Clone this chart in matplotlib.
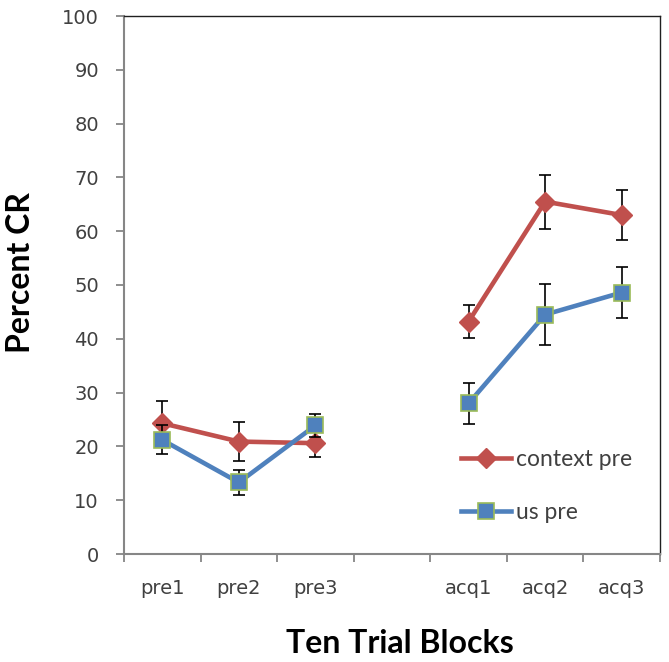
import numpy as np
import matplotlib
matplotlib.use("Agg")
import matplotlib.pyplot as plt

categories = ["pre1", "pre2", "pre3", "", "acq1", "acq2", "acq3"]
context_pre = [24.3, 20.9, 20.6, np.nan, 43.2, 65.5, 63.0]
context_err = [4.2, 3.7, 2.5, np.nan, 3.1, 5.0, 4.7]
us_pre = [21.2, 13.3, 23.9, np.nan, 28.0, 44.5, 48.6]
us_err = [2.7, 2.3, 2.2, np.nan, 3.8, 5.7, 4.8]
yticks = list(range(0, 101, 10))

red = "#C0504D"
blue = "#4F81BD"
green = "#9BBB59"

W, H = 669, 662
fig = plt.figure(figsize=(W/100, H/100), dpi=100)
ax = fig.add_axes([124/W, 1-554/H, (660-124)/W, (554-16)/H])

x = np.arange(len(categories))
ax.plot(x, context_pre, color=red, lw=3.3, marker="D", ms=10, mfc=red, mec=red,
        label="context pre", zorder=3)
ax.errorbar(x, context_pre, yerr=context_err, fmt="none", ecolor="black",
            elinewidth=1.2, capsize=4.5, capthick=1.2, zorder=2)
ax.plot(x, us_pre, color=blue, lw=3.3, marker="s", ms=11, mfc=blue, mec=green,
        mew=1.2, label="us pre", zorder=5)
ax.errorbar(x, us_pre, yerr=us_err, fmt="none", ecolor="black",
            elinewidth=1.2, capsize=4.5, capthick=1.2, zorder=4)

ax.set_xlim(-0.5, len(categories) - 0.5)
ax.set_ylim(0, 100)
ax.set_yticks(yticks)
ax.set_yticklabels([str(v) for v in yticks])
ax.set_xticks(x)
ax.set_xticklabels(categories)
ax.set_xticks(np.arange(-0.5, len(categories), 1.0), minor=True)
ax.tick_params(axis="x", which="major", length=0, pad=18, labelsize=14, colors="#404040")
ax.tick_params(axis="x", which="minor", length=6, width=1.3, color="#868686", direction="out")
ax.tick_params(axis="y", length=6, width=1.3, color="#868686", direction="out",
               labelsize=14, labelcolor="#404040", pad=12)

for s in ["left", "bottom"]:
    ax.spines[s].set_color("#868686")
    ax.spines[s].set_linewidth(1.5)
for s in ["top", "right"]:
    ax.spines[s].set_color("#202020")
    ax.spines[s].set_linewidth(1.0)

fig.text(21/W, 1-273/H, "Percent CR", rotation=90, ha="center", va="center",
         fontsize=23, fontweight="bold", family="Lato", color="black")
fig.text(400/W, 1-653/H, "Ten Trial Blocks", ha="center", va="baseline",
         fontsize=23, fontweight="bold", family="Lato", color="black")

leg = ax.legend(loc="upper left", bbox_to_anchor=(0.628, 0.195), frameon=False,
                prop={"family": "Lato", "size": 16.5}, handlelength=2.2,
                labelspacing=1.4, handletextpad=0.2, borderpad=0, borderaxespad=0)
for t in leg.get_texts():
    t.set_color("#404040")

fig.savefig("out.png", dpi=100)
